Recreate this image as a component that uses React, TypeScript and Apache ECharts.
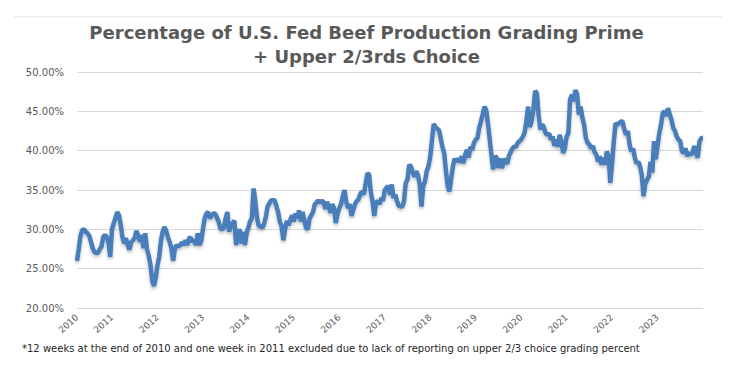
import React, { useEffect, useRef } from 'react';
import * as echarts from 'echarts';

const TITLE_LINE_1 = 'Percentage of U.S. Fed Beef Production Grading Prime';
const TITLE_LINE_2 = '+ Upper 2/3rds Choice';
const FOOTNOTE =
  '*12 weeks at the end of 2010 and one week in 2011 excluded due to lack of reporting on upper 2/3 choice grading percent';

const YEARS = [2010, 2011, 2012, 2013, 2014, 2015, 2016, 2017, 2018, 2019, 2020, 2021, 2022, 2023];
const Y_MIN = 20;
const Y_MAX = 50;
const Y_STEP = 5;

// Roughly bi-weekly readings (percent) per year
const y2010 = [26.0, 27.5, 29.2, 29.9, 30.0, 29.7, 29.5, 29.2, 28.4, 27.6, 27.1, 27.0, 27.0, 27.5, 27.8, 29.0, 29.3, 29.0, 28.4, 26.5];
const y2011 = [30.0, 30.8, 31.4, 32.2, 31.8, 30.6, 29.0, 28.2, 28.9, 28.0, 27.4, 28.4, 28.6, 28.9, 29.8, 29.2, 28.4, 29.3, 27.6, 29.5, 27.5, 26.7, 25.5, 23.5, 22.8, 23.8];
const y2012 = [25.4, 26.5, 28.5, 29.7, 30.3, 29.8, 29.0, 28.4, 27.6, 26.0, 27.6, 28.0, 27.8, 28.0, 28.3, 28.0, 28.6, 28.0, 28.8, 29.0, 28.4, 28.6, 28.0, 29.5, 28.0, 28.5];
const y2013 = [30.0, 31.4, 32.0, 32.2, 31.4, 31.8, 32.0, 32.0, 31.5, 31.0, 30.1, 30.0, 30.2, 31.4, 32.2, 29.7, 30.5, 30.8, 31.1, 28.0, 29.5, 30.0, 28.2, 29.7, 28.0, 29.5];
const y2014 = [30.2, 31.0, 31.4, 35.2, 33.5, 31.4, 30.4, 30.4, 30.2, 30.7, 31.6, 32.9, 33.3, 33.7, 33.7, 33.7, 33.0, 32.2, 31.0, 30.4, 28.6, 30.0, 31.1, 30.5, 31.2, 31.8];
const y2015 = [31.0, 32.0, 31.4, 32.4, 31.0, 32.2, 31.2, 30.2, 30.0, 31.4, 31.8, 32.2, 33.2, 33.4, 33.7, 33.4, 33.6, 33.5, 32.6, 33.5, 32.8, 32.1, 33.2, 32.7, 30.8, 32.0];
const y2016 = [32.7, 33.2, 34.2, 35.0, 33.5, 32.7, 33.2, 31.7, 32.5, 33.2, 33.6, 33.8, 34.5, 34.8, 34.4, 35.7, 37.1, 37.0, 34.8, 33.6, 31.7, 33.4, 33.6, 33.2, 34.0, 33.6];
const y2017 = [35.0, 35.3, 35.5, 34.4, 35.7, 34.0, 34.4, 33.6, 33.0, 32.9, 32.9, 33.6, 35.9, 36.3, 38.2, 38.0, 37.2, 36.7, 37.4, 36.9, 35.7, 32.9, 35.5, 36.1, 37.4, 38.0];
const y2018 = [39.2, 41.3, 43.4, 43.0, 42.8, 42.6, 41.6, 40.5, 39.7, 37.4, 35.5, 34.8, 36.5, 38.0, 39.0, 38.6, 39.0, 38.5, 39.3, 38.4, 39.5, 40.1, 39.1, 40.5, 40.1, 41.0];
const y2019 = [41.4, 41.6, 42.9, 43.7, 44.6, 45.6, 45.2, 43.5, 41.5, 39.5, 37.6, 39.3, 39.1, 37.8, 39.0, 37.8, 38.4, 39.0, 38.3, 39.3, 39.8, 40.3, 40.5, 40.5, 41.0, 41.2];
const y2020 = [41.4, 41.8, 42.3, 43.8, 45.6, 43.0, 43.8, 45.2, 47.6, 47.3, 44.5, 42.7, 43.3, 43.0, 42.2, 42.0, 42.2, 41.4, 41.8, 40.6, 41.4, 40.5, 42.0, 41.2, 39.7, 40.3];
const y2021 = [41.8, 42.2, 46.5, 47.1, 46.3, 47.7, 47.2, 44.6, 45.6, 44.2, 43.3, 41.6, 41.0, 40.8, 40.3, 40.6, 39.8, 39.5, 38.6, 39.3, 38.2, 39.1, 38.2, 39.9, 39.3, 35.9];
const y2022 = [38.4, 41.2, 43.5, 43.3, 43.5, 43.7, 43.7, 42.7, 42.0, 42.5, 40.8, 39.9, 40.3, 39.1, 38.4, 38.6, 38.0, 36.9, 34.2, 35.8, 36.3, 36.7, 38.6, 37.2, 41.2, 38.9];
const y2023 = [40.6, 42.2, 43.3, 44.8, 45.0, 44.4, 45.4, 44.6, 43.9, 42.9, 42.5, 41.8, 41.4, 41.2, 39.9, 39.7, 40.3, 39.3, 39.7, 39.5, 39.7, 40.6, 39.7, 39.1, 41.2, 41.6, 41.6];

const SERIES_BY_YEAR = [y2010, y2011, y2012, y2013, y2014, y2015, y2016, y2017, y2018, y2019, y2020, y2021, y2022, y2023];

export default function App() {
  const ref = useRef<HTMLDivElement>(null);

  useEffect(() => {
    if (!ref.current) return;
    const chart = echarts.init(ref.current, null, { renderer: 'svg' });

    const categories: string[] = [];
    const values: number[] = [];
    SERIES_BY_YEAR.forEach((arr, yi) => {
      arr.forEach((v, k) => {
        categories.push(`${YEARS[yi]}-${k}`);
        values.push(v);
      });
    });

    const font = 'DejaVu Sans';
    const titleStyle = {
      fontFamily: font,
      fontSize: 18,
      fontWeight: 'bold',
      color: '#595959',
    };

    chart.setOption({
      animation: false,
      backgroundColor: '#ffffff',
      title: [
        { text: TITLE_LINE_1, left: 'center', top: 18, textStyle: titleStyle },
        { text: TITLE_LINE_2, left: 'center', top: 42, textStyle: titleStyle },
      ],
      grid: { left: 77, right: 30, top: 72, bottom: 70, containLabel: false },
      xAxis: {
        type: 'category',
        data: categories,
        boundaryGap: false,
        axisLine: { show: false },
        axisTick: { show: false },
        splitLine: { show: false },
        axisLabel: {
          interval: (_i: number, v: string) => v.endsWith('-0'),
          formatter: (v: string) => v.split('-')[0],
          rotate: 42,
          margin: 8,
          fontFamily: font,
          fontSize: 9,
          color: '#595959',
        },
      },
      yAxis: {
        type: 'value',
        min: Y_MIN,
        max: Y_MAX,
        interval: Y_STEP,
        axisLine: { show: false },
        axisTick: { show: false },
        splitLine: { lineStyle: { color: '#d9d9d9', width: 1 } },
        axisLabel: {
          formatter: (v: number) => v.toFixed(2) + '%',
          margin: 13,
          fontFamily: font,
          fontSize: 10,
          color: '#595959',
        },
      },
      series: [
        {
          type: 'line',
          data: values,
          showSymbol: false,
          symbol: 'none',
          smooth: false,
          lineStyle: {
            color: '#4a7ebb',
            width: 4.5,
            shadowColor: 'rgba(0,0,0,0.25)',
            shadowBlur: 3,
            shadowOffsetY: 2,
          },
          emphasis: { disabled: true },
        },
      ],
      graphic: [
        {
          type: 'line',
          shape: { x1: 14, y1: 17, x2: 722, y2: 17 },
          style: { stroke: '#e3e3e3', lineWidth: 1 },
          silent: true,
        },
        {
          type: 'text',
          left: 22,
          top: 343,
          style: {
            text: FOOTNOTE,
            fontFamily: font,
            fontSize: 10,
            fill: '#262626',
          },
          silent: true,
        },
      ],
    });

    return () => chart.dispose();
  }, []);

  return (
    <div
      ref={ref}
      style={{ position: 'fixed', left: 0, top: 0, width: 733, height: 378, background: '#fff' }}
    />
  );
}
